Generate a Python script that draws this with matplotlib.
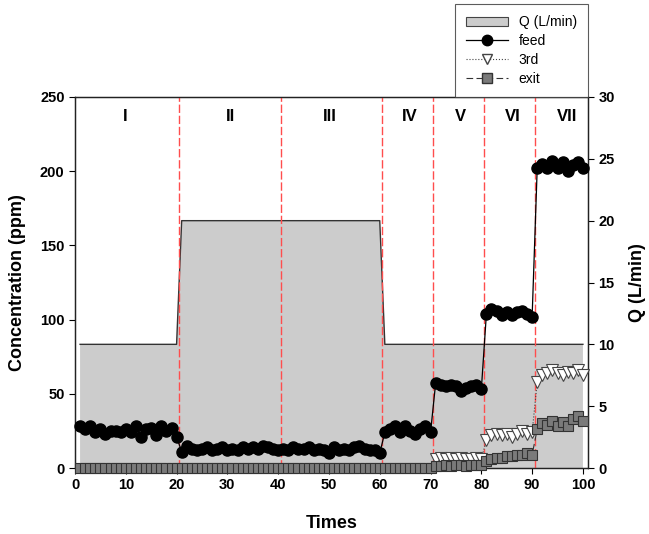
import matplotlib
matplotlib.use("Agg")
import matplotlib.pyplot as plt
from matplotlib.patches import Patch
from matplotlib.lines import Line2D
import numpy as np

plt.rcParams['font.family'] = ['Liberation Sans', 'DejaVu Sans']

# ---- data ----
times = list(range(1, 101))
feed = ([28, 26, 28, 24, 26, 23, 25, 25, 24, 26, 24, 28, 21, 26, 27, 22, 28, 25, 27, 21] +
        [11, 15, 13, 12, 13, 14, 12, 13, 14, 12, 13, 12, 14, 13, 14, 13, 15, 14, 13, 12,
         13, 12, 14, 13, 13, 14, 12, 13, 12, 10, 14, 12, 13, 12, 14, 15, 13, 12, 12, 10] +
        [24, 26, 28, 24, 28, 25, 23, 26, 28, 24] +
        [57, 56, 55, 56, 55, 52, 54, 55, 56, 53] +
        [104, 107, 106, 103, 105, 103, 105, 106, 104, 102] +
        [202, 205, 202, 207, 202, 206, 200, 204, 206, 202])
third_t = list(range(71, 101))
third = ([6, 6.5, 6, 6.5, 6, 6.5, 6, 6, 6.5, 6] +
         [19, 22, 23, 22, 23, 21, 23, 25, 23, 24] +
         [58, 63, 64, 66, 64, 63, 65, 64, 66, 63])
exit_ = ([0] * 70 +
         [1.5, 1.5, 2, 1.5, 2, 2, 1.5, 2, 2, 2] +
         [5, 6, 7, 7, 8, 8, 9, 9, 10, 9] +
         [26, 30, 29, 32, 28, 31, 28, 33, 35, 32])
q_t = [1, 20, 21, 60, 61, 100]
q_val = [10, 10, 20, 20, 10, 10]
boundaries = [20.5, 40.5, 60.5, 70.5, 80.5, 90.5]
phase_labels = ['I', 'II', 'III', 'IV', 'V', 'VI', 'VII']
phase_x = [9.8, 30.6, 50.2, 66.0, 75.9, 86.2, 96.8]

fig = plt.figure(figsize=(6.49, 5.34), dpi=100)
ax = fig.add_axes([75/649, 1-468/534, (588-75)/649, (468-97)/534])
ax2 = ax.twinx()
ax.set_zorder(ax2.get_zorder() + 1)
ax.patch.set_visible(False)

# Q fill on right axis
ax2.fill_between(q_t, q_val, 0, facecolor='#cccccc', edgecolor='none', zorder=1)
ax2.plot(q_t, q_val, color='#333333', lw=1.0, zorder=2)
ax2.set_ylim(0, 30)
ax2.set_yticks(range(0, 31, 5))

for b in boundaries:
    ax.axvline(b, color='#ff4d4d', lw=1.0, linestyle=(0, (6, 2)), zorder=2)

ax.plot(third_t, third, linestyle=':', color='#444444', lw=0.8, marker='v',
        ms=8.5, mfc='white', mec='#444444', mew=0.8, zorder=3, clip_on=False)
ax.plot(times, exit_, linestyle=(0, (6, 3)), color='#333333', lw=0.8, marker='s',
        ms=7, mfc='#7a7a7a', mec='#333333', mew=0.8, zorder=4, clip_on=False)
ax.plot(times, feed, linestyle='-', color='black', lw=0.9, marker='o',
        ms=8, mfc='black', mec='black', zorder=5, clip_on=False)

for lab, px in zip(phase_labels, phase_x):
    ax.text(px, 237, lab, ha='center', va='center', fontsize=12, fontweight='bold')

ax.set_xlim(0, 101)
ax.set_ylim(0, 250)
ax.set_xticks(range(0, 101, 10))
ax.set_yticks(range(0, 251, 50))

for a in (ax, ax2):
    a.tick_params(direction='out', length=4, width=0.8, labelsize=10.5)
    for lab in a.get_xticklabels() + a.get_yticklabels():
        lab.set_fontweight('bold')
    for s in a.spines.values():
        s.set_linewidth(0.9)
        s.set_color('#222222')

ax.set_xlabel('Times', fontsize=13, fontweight='bold', labelpad=16)
ax.set_ylabel('Concentration (ppm)', fontsize=13, fontweight='bold', labelpad=10)
ax2.set_ylabel('Q (L/min)', fontsize=13, fontweight='bold', labelpad=10)

handles = [
    Patch(facecolor='#cccccc', edgecolor='#444444', lw=0.8),
    Line2D([], [], color='black', lw=0.9, marker='o', ms=7.5, mfc='black'),
    Line2D([], [], color='#444444', lw=0.8, linestyle=':', marker='v', ms=7.5,
           mfc='white', mec='#444444'),
    Line2D([], [], color='#333333', lw=0.8, linestyle=(0, (6, 3)), marker='s', ms=6.5,
           mfc='#7a7a7a', mec='#333333'),
]
labels = ['Q (L/min)', 'feed', '3rd', 'exit']
leg = fig.legend(handles, labels, loc='lower right',
                 bbox_to_anchor=(588/649, 1-97/534), borderaxespad=0,
                 fontsize=10, frameon=True, fancybox=False, shadow=False,
                 handlelength=3.0, handletextpad=0.8, labelspacing=0.35,
                 borderpad=0.8)
leg.get_frame().set_edgecolor('#333333')
leg.get_frame().set_linewidth(0.8)

fig.savefig('out.png', dpi=100)
